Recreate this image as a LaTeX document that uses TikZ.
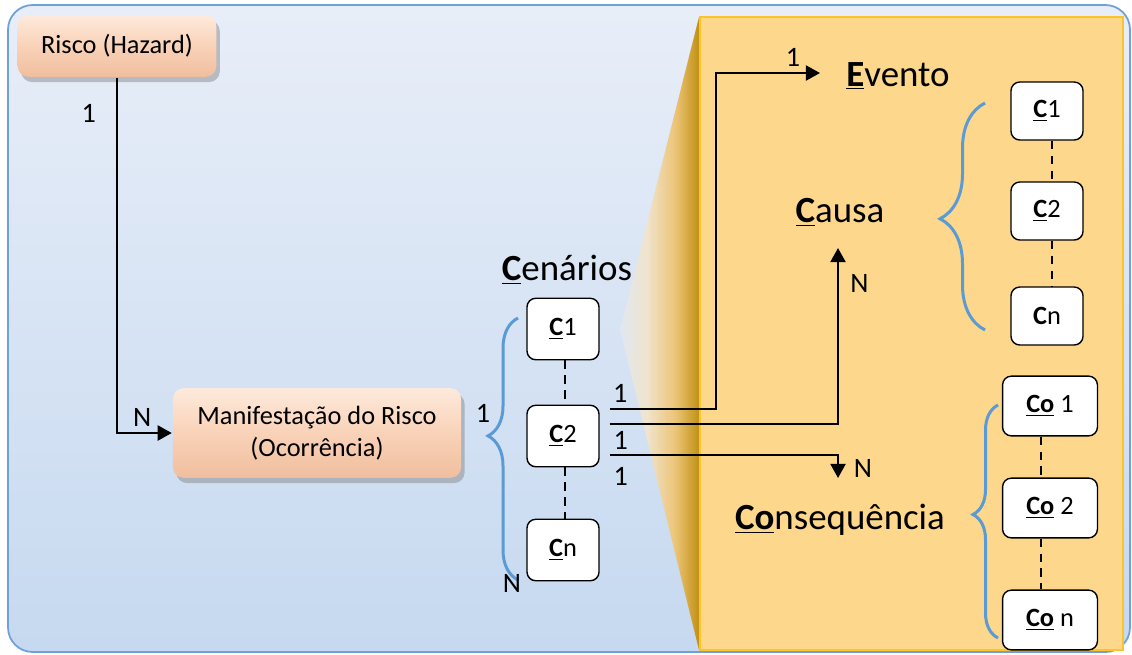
\documentclass[tikz,border=0pt]{standalone}
\usepackage{fontspec}
\setmainfont{Carlito}
\usetikzlibrary{arrows.meta}
\usetikzlibrary{shadows}
\usetikzlibrary{decorations.pathreplacing}

\definecolor{bgtop}{RGB}{232,238,248}
\definecolor{bgbottom}{RGB}{198,217,240}
\definecolor{bgline}{RGB}{111,160,216}
\definecolor{panel}{RGB}{253,215,139}
\definecolor{panelline}{RGB}{252,196,40}
\definecolor{gold}{RGB}{192,145,20}
\definecolor{goldmid}{RGB}{236,196,118}
\definecolor{fadelight}{RGB}{240,228,205}
\definecolor{fadebg}{RGB}{224,231,242}
\definecolor{peachtop}{RGB}{253,234,220}
\definecolor{peachmid}{RGB}{249,210,184}
\definecolor{peachbottom}{RGB}{240,190,158}
\definecolor{bracecol}{RGB}{91,155,213}

\pgfdeclarehorizontalshading{wedgefade}{100bp}{color(0bp)=(fadebg); color(25bp)=(fadebg);
  color(42bp)=(fadelight); color(60bp)=(goldmid); color(75bp)=(gold); color(100bp)=(gold)}

\newcommand{\lead}[1]{\underline{\textbf{#1}}}

\tikzset{
  risk/.style={rounded corners=6pt, top color=peachtop, bottom color=peachbottom,
    middle color=peachmid, align=center,
    drop shadow={shadow xshift=2pt, shadow yshift=-3pt, opacity=0.45},
    font=\fontsize{15}{18}\selectfont},
  item/.style={draw, fill=white, rounded corners=5pt, line width=0.8pt,
    minimum width=41pt, minimum height=35pt, font=\fontsize{15}{18}\selectfont},
  title/.style={inner sep=0pt, font=\fontsize{21}{25}\selectfont},
  card/.style={font=\fontsize{16}{19}\selectfont},
  group/.style={decorate, draw=bracecol, line width=1.7pt},
  gap/.style={line width=1.2pt, dash pattern=on 5pt off 3.5pt},
}

\begin{document}
\begin{tikzpicture}[x=0.02cm, y=-0.02cm, >={Triangle[length=8pt, width=8.5pt]}, line width=1.3pt]
    \useasboundingbox (0,0) rectangle (1132,654);

    % background and zoom panel
    \path [draw=bgline, line width=1pt, top color=bgtop, bottom color=bgbottom,
      rounded corners=14pt] (8,5) rectangle (1130,652);
    \path [shading=wedgefade] (699,17) -- (620,330) -- (699,650) -- cycle;
    \path [fill=panel, draw=panelline, line width=1.2pt] (700,17) rectangle (1123,650);

    \node [risk, minimum width=113pt, minimum height=35pt] (risco) at (117,46) {Risco (Hazard)};
    \node [risk, minimum width=164pt, minimum height=51pt] (manif) at (317,433)
      {Manifestação do Risco\\(Ocorrência)};

    \node [title] (cenarios) at (567,270) {\lead{C}enários};
    \node [item] (c1) at (563,329) {\lead{C}1};
    \node [item] (c2) at (563,436) {\lead{C}2};
    \node [item] (cn) at (563,550) {\lead{C}n};

    \node [title] (evento) at (898,76) {\lead{E}vento};
    \node [title] (causa) at (840,212) {\lead{C}ausa};
    \node [title] (conseq) at (840,520) {\lead{Co}nsequência};

    \node [item, minimum height=33pt] (ca1) at (1047,111) {\lead{C}1};
    \node [item, minimum height=33pt] (ca2) at (1047,211) {\lead{C}2};
    \node [item, minimum height=33pt] (can) at (1047,316) {\textbf{C}n};

    \node [item, minimum width=54pt, minimum height=34pt] (co1) at (1050,406) {\lead{Co} 1};
    \node [item, minimum width=54pt, minimum height=34pt] (co2) at (1050,508) {\lead{Co} 2};
    \node [item, minimum width=54pt, minimum height=34pt] (con) at (1050,620) {\lead{Co} n};

    \draw [gap] ([xshift=1pt]c1.south) -- ([xshift=1pt]c2.north);
    \draw [gap] ([xshift=1pt]c2.south) -- ([xshift=1pt]cn.north);
    \draw [gap] ([xshift=3pt]ca1.south) -- ([xshift=3pt]ca2.north);
    \draw [gap] ([xshift=3pt]ca2.south) -- ([xshift=3pt]can.north);
    \draw [gap] ([xshift=-5pt]co1.south) -- ([xshift=-5pt]co2.north);
    \draw [gap] ([xshift=-5pt]co2.south) -- ([xshift=-5pt]con.north);

    \draw [group, decoration={brace, amplitude=0.6cm, aspect=0.55}] (518,580) -- (518,318);
    \draw [group, decoration={brace, amplitude=0.9cm, aspect=0.49}] (985,330) -- (985,103);
    \draw [group, decoration={brace, amplitude=0.5cm, aspect=0.53}] (998,638) -- (998,405);
    \node [card] (cenone) at (483,413) {1};
    \node [card] (cenmany) at (512,583) {N};

    \draw [->] (risco) |- node [card, pos=0.05, left=8pt] (riskone) {1}
      node [card, pos=0.73, above] (riskmany) {N} (manif);

    \draw [->] ([shift={(10,-27)}]c2.east) -- node [card, pos=0.1, above] (evone) {1} ++(106,0)
      |- node [card, pos=0.87, above] (evtwo) {1} ([shift={(-78,-3)}]evento.center);
    \draw [->] ([shift={(10,-12)}]c2.east) -| node [card, pos=0.024, below] (caone) {1}
      node [card, pos=0.9, right=3pt] (camany) {N} ([shift={(-2,36)}]causa.center);
    \draw [->] ([shift={(10,19)}]c2.east) -| node [card, pos=0.024, below=3pt] (coone) {1}
      node [card, pos=0.8, right=5pt] (comany) {N} ([shift={(-2,-42)}]conseq.center);
  \end{tikzpicture}
\end{document}
